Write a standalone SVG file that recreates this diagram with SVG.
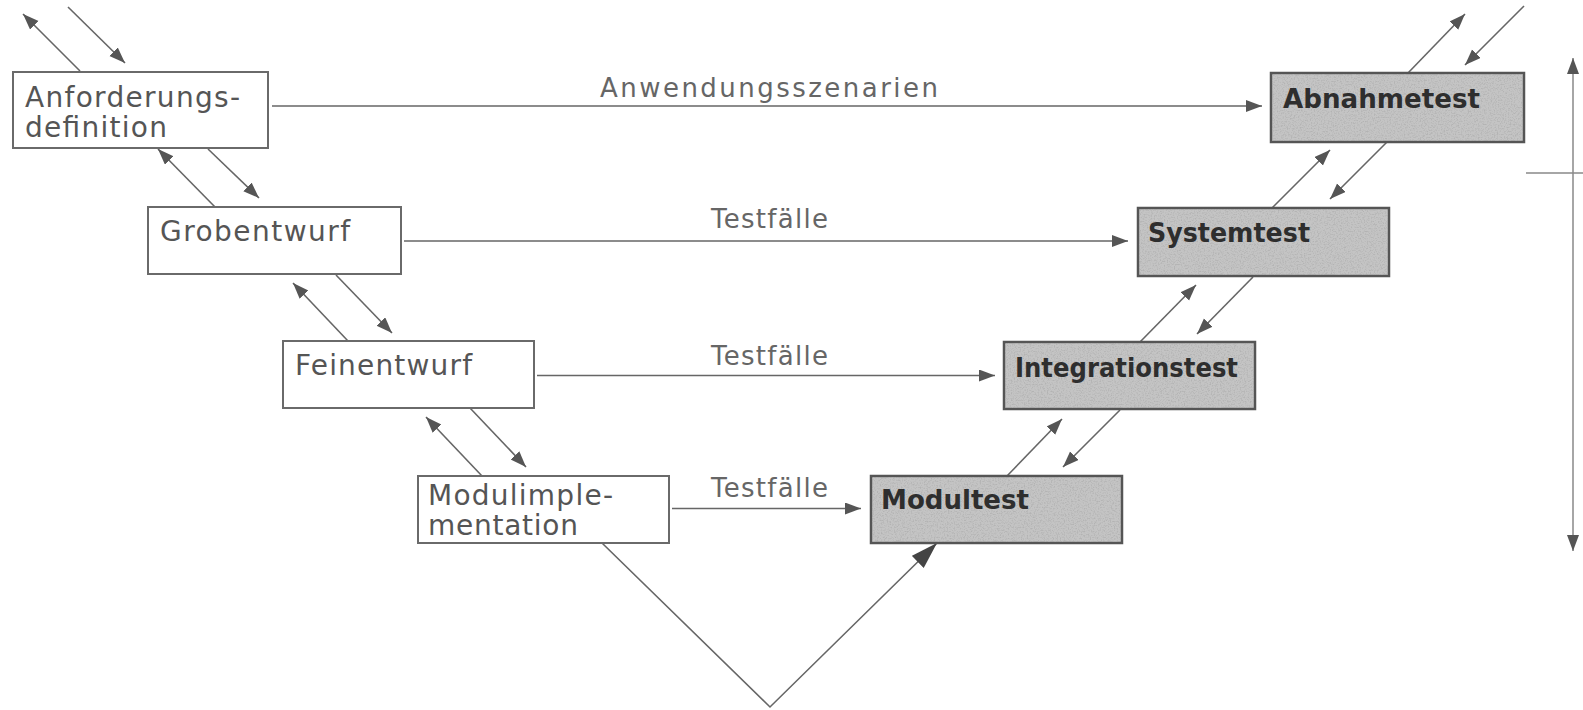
<svg xmlns="http://www.w3.org/2000/svg" width="1583" height="710" viewBox="0 0 1583 710">
<style>
.box{fill:#fff;stroke:#6a6a6a;stroke-width:2}
.tbox{fill:#c4c4c4;stroke:#555;stroke-width:2.5}
.lbl{font-family:"DejaVu Sans",Verdana,sans-serif;font-size:28px;fill:#555}
.blbl{font-family:"DejaVu Sans",Verdana,sans-serif;font-size:26px;font-weight:bold;fill:#2e2e2e}
.clbl{font-family:"DejaVu Sans",Verdana,sans-serif;font-size:26px;fill:#666}
.con{fill:none;stroke:#666;stroke-width:1.6}
.axis{fill:none;stroke:#888;stroke-width:1.5}
</style>
<defs>
<marker id="ah" markerUnits="userSpaceOnUse" markerWidth="17" markerHeight="13" refX="16" refY="6" orient="auto-start-reverse">
<path d="M0,0 L16,6 L0,12 z" fill="#555"/>
</marker>
<marker id="big" markerUnits="userSpaceOnUse" markerWidth="28" markerHeight="18" refX="27" refY="8.5" orient="auto">
<path d="M0,0 L27,8.5 L0,17 z" fill="#444"/>
</marker>
<filter id="grain" x="0" y="0" width="100%" height="100%">
<feTurbulence type="fractalNoise" baseFrequency="0.7" numOctaves="2" seed="5" result="n"/>
<feColorMatrix in="n" type="matrix" values="0 0 0 0 0.45  0 0 0 0 0.45  0 0 0 0 0.45  3 0 0 0 -1.35"/>
</filter>
</defs>

<g id="connectors">
<line class="con" x1="272" y1="106" x2="1262" y2="106" marker-end="url(#ah)"/>
<line class="con" x1="404" y1="241" x2="1128" y2="241" marker-end="url(#ah)"/>
<line class="con" x1="537" y1="375.5" x2="995" y2="375.5" marker-end="url(#ah)"/>
<line class="con" x1="672" y1="508.5" x2="861" y2="508.5" marker-end="url(#ah)"/>
<line class="con" x1="80" y1="71" x2="23" y2="14" marker-end="url(#ah)"/>
<line class="con" x1="68" y1="7" x2="125" y2="63" marker-end="url(#ah)"/>
<line class="con" x1="215" y1="207" x2="158" y2="149" marker-end="url(#ah)"/>
<line class="con" x1="208" y1="149" x2="259" y2="198" marker-end="url(#ah)"/>
<line class="con" x1="348" y1="341" x2="293" y2="283" marker-end="url(#ah)"/>
<line class="con" x1="336" y1="275" x2="392" y2="333" marker-end="url(#ah)"/>
<line class="con" x1="482" y1="476" x2="426" y2="417" marker-end="url(#ah)"/>
<line class="con" x1="470" y1="408" x2="526" y2="467" marker-end="url(#ah)"/>
<polyline class="con" points="602,543 770,707 937,543" marker-end="url(#big)"/>
<line class="con" x1="1007" y1="476" x2="1062" y2="419" marker-end="url(#ah)"/>
<line class="con" x1="1120" y1="410" x2="1063" y2="467" marker-end="url(#ah)"/>
<line class="con" x1="1140" y1="342" x2="1196" y2="285" marker-end="url(#ah)"/>
<line class="con" x1="1253" y1="277" x2="1197" y2="334" marker-end="url(#ah)"/>
<line class="con" x1="1272" y1="208" x2="1330" y2="150" marker-end="url(#ah)"/>
<line class="con" x1="1387" y1="142" x2="1330" y2="199" marker-end="url(#ah)"/>
<line class="con" x1="1408" y1="73" x2="1465" y2="14" marker-end="url(#ah)"/>
<line class="con" x1="1524" y1="6" x2="1465" y2="65" marker-end="url(#ah)"/>
<text class="clbl" x="600" y="97" textLength="338" lengthAdjust="spacing">Anwendungsszenarien</text>
<text class="clbl" x="711" y="228" textLength="117" lengthAdjust="spacing">Testfälle</text>
<text class="clbl" x="711" y="365" textLength="117" lengthAdjust="spacing">Testfälle</text>
<text class="clbl" x="711" y="497" textLength="117" lengthAdjust="spacing">Testfälle</text>
</g>

<g id="axis">
<line class="axis" x1="1573" y1="58" x2="1573" y2="551" marker-start="url(#ah)" marker-end="url(#ah)"/>
<line class="axis" x1="1526" y1="173" x2="1583" y2="173"/>
</g>

<g id="anforderungsdefinition">
<rect class="box" x="13" y="72" width="255" height="76"/>
<text class="lbl" x="25" y="107" textLength="215" lengthAdjust="spacing">Anforderungs-</text>
<text class="lbl" x="25" y="137" textLength="142" lengthAdjust="spacing">definition</text>
</g>
<g id="grobentwurf">
<rect class="box" x="148" y="207" width="253" height="67"/>
<text class="lbl" x="160" y="241" textLength="190" lengthAdjust="spacing">Grobentwurf</text>
</g>
<g id="feinentwurf">
<rect class="box" x="283" y="341" width="251" height="67"/>
<text class="lbl" x="295" y="375" textLength="177" lengthAdjust="spacing">Feinentwurf</text>
</g>
<g id="modulimplementation">
<rect class="box" x="418" y="476" width="251" height="67"/>
<text class="lbl" x="428" y="505" textLength="185" lengthAdjust="spacing">Modulimple-</text>
<text class="lbl" x="428" y="535" textLength="150" lengthAdjust="spacing">mentation</text>
</g>

<g id="abnahmetest">
<rect class="tbox" x="1271" y="73" width="253" height="69"/>
<rect x="1272" y="74" width="251" height="67" fill="#000" filter="url(#grain)"/>
<text class="blbl" x="1283" y="108" textLength="197" lengthAdjust="spacingAndGlyphs">Abnahmetest</text>
</g>
<g id="systemtest">
<rect class="tbox" x="1138" y="208" width="251" height="68"/>
<rect x="1139" y="209" width="249" height="66" fill="#000" filter="url(#grain)"/>
<text class="blbl" x="1148" y="242" textLength="162" lengthAdjust="spacingAndGlyphs">Systemtest</text>
</g>
<g id="integrationstest">
<rect class="tbox" x="1004" y="342" width="251" height="67"/>
<rect x="1005" y="343" width="249" height="65" fill="#000" filter="url(#grain)"/>
<text class="blbl" x="1015" y="377" textLength="223" lengthAdjust="spacingAndGlyphs">Integrationstest</text>
</g>
<g id="modultest">
<rect class="tbox" x="871" y="476" width="251" height="67"/>
<rect x="872" y="477" width="249" height="65" fill="#000" filter="url(#grain)"/>
<text class="blbl" x="881" y="509" textLength="148" lengthAdjust="spacingAndGlyphs">Modultest</text>
</g>
</svg>
